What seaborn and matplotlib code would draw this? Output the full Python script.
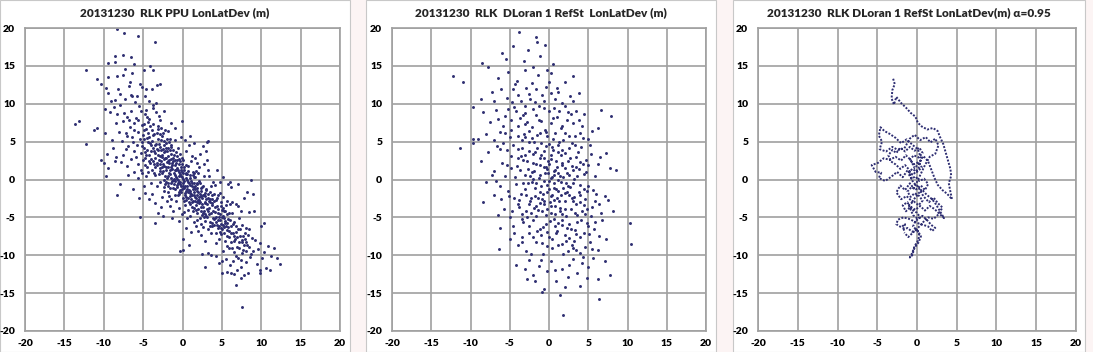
import matplotlib
matplotlib.use("Agg")
import matplotlib.pyplot as plt
import seaborn as sns
import pandas as pd
from matplotlib.patches import Rectangle

# ---------------- data (metres) ----------------
titles = ["20131230  RLK PPU LonLatDev (m)",
          "20131230  RLK  DLoran 1 RefSt  LonLatDev (m)",
          "20131230  RLK DLoran 1 RefSt LonLatDev(m) \u03b1=0.95"]
ticks = [-20, -15, -10, -5, 0, 5, 10, 15, 20]

ppu_pts = [
 (-8.3,19.9),(-7.4,19.3),(-5.7,18.9),(-3.5,18.2),(-8.6,16.3),(-7.6,16.5),(-6.6,16.2),(-9.5,15.4),(-8.6,15.5),(-6.2,15.2),
 (-4.1,15.0),(-12.2,14.4),(-7.3,14.6),(-4.9,14.4),(-3.7,14.4),(-10.8,13.3),(-9.5,13.5),(-8.3,13.6),(-6.7,12.9),(-10.4,12.6),
 (-2.8,12.6),(-5.2,12.2),(-3.9,11.9),(-9.5,11.4),(-8.0,11.3),(-6.4,11.0),(-4.7,11.0),(-8.6,10.5),(-13.6,7.3),(-13.1,7.7),
 (-11.3,6.6),(-10.9,6.8),(-12.3,4.7),(-10.3,2.6),(-10.0,2.2),(-9.7,0.4),(-8.3,-2.1),(-5.4,-4.9),(-3.5,-5.7),(7.5,-16.8),
 (6.8,-13.9),(7.4,-13.0),(9.9,-12.4),(11.1,-11.9),(12.4,-11.2),(12.0,-10.3),(11.6,-9.1),(10.3,-5.8),(8.7,0.0),(8.2,-1.7),
 (6.0,-0.3),(3.1,5.0),(-0.1,7.7),(-0.3,-9.5),(0.0,-7.8),(2.9,-11.5),(5.0,-12.4),(6.1,-12.4),
 (-9.8,6.1),(-9.6,3.4),(-9.2,8.9),(-8.9,5.2),(-8.7,9.6),(-8.5,7.4),(-8.4,3.0),(-8.2,11.9),(-8.1,6.3),(-9.9,9.3),
 (-9.4,1.5),(-8.8,4.1),(-8.3,8.6),(-9.1,10.4),(-8.6,2.4),(-9.7,12.1),(-8.0,-0.6),
 (-7.9,9.8),(-7.7,5.1),(-7.6,7.7),(-7.5,3.2),(-7.3,10.6),(-7.2,6.2),(-7.1,1.8),(-7.0,8.3),(-6.9,4.4),(-6.8,12.3),
 (-6.7,6.9),(-6.6,2.7),(-6.5,9.1),(-6.4,5.6),(-6.3,-1.2),(-6.2,7.5),(-6.1,3.8),(-6.0,10.2),(-7.8,2.3),(-7.4,8.8),
 (-6.9,0.6),(-6.6,11.1),(-6.3,4.9),(-6.1,6.6),(-7.2,4.0),(-6.8,7.8),(-7.6,13.8),(-6.4,14.1),(-6.2,1.0),(-7.0,5.8),
 (-5.9,8.1),(-5.8,4.6),(-5.7,6.3),(-5.6,2.1),(-5.5,9.7),(-5.4,5.3),(-5.3,3.5),(-5.2,7.2),(-5.1,0.9),(-5.0,5.9),
 (-4.9,4.1),(-4.8,8.6),(-4.7,2.8),(-4.6,6.7),(-4.5,1.6),(-4.4,4.9),(-4.3,10.3),(-4.2,3.3),(-4.1,7.0),(-4.0,-0.4),
 (-5.9,3.0),(-5.6,7.9),(-5.3,1.2),(-5.1,4.4),(-4.9,6.5),(-4.7,-1.8),(-4.5,3.9),(-4.3,5.6),(-4.1,2.2),(-5.8,11.0),
 (-5.4,12.6),(-5.0,2.6),(-4.6,9.2),(-4.2,8.0),(-5.7,0.2),(-5.2,5.0),(-4.8,3.6),(-4.4,6.2),(-4.0,4.5),(-5.5,-2.4),
 (-4.9,-0.9),(-4.6,12.0),(-4.2,-2.6),(-5.3,9.0),(-4.4,1.0),
 (-3.9,5.1),(-3.8,2.4),(-3.7,7.3),(-3.6,3.8),(-3.5,0.6),(-3.4,4.7),(-3.3,6.1),(-3.2,1.9),(-3.1,3.2),(-3.0,8.4),
 (-2.9,-0.3),(-2.8,4.3),(-2.7,2.5),(-2.6,5.7),(-2.5,1.1),(-2.4,3.6),(-2.3,-1.5),(-2.2,6.5),(-2.1,2.9),(-2.0,0.2),
 (-3.9,1.2),(-3.7,4.2),(-3.5,2.9),(-3.3,-0.9),(-3.1,5.4),(-2.9,3.1),(-2.7,6.8),(-2.5,4.0),(-2.3,1.8),(-2.1,4.8),
 (-3.8,9.4),(-3.4,10.1),(-3.0,0.7),(-2.6,-2.3),(-2.2,3.7),(-3.6,6.0),(-3.2,4.0),(-2.8,1.5),(-2.4,0.0),(-2.0,2.3),
 (-3.9,-1.9),(-3.5,-3.1),(-3.1,-4.4),(-2.7,-3.6),(-2.3,5.1),(-2.0,-2.8),(-3.6,2.0),(-2.8,7.9),(-2.4,9.1),(-3.3,12.5),
 (-2.5,-4.8),(-2.1,1.3),(-3.0,2.6),(-2.6,3.3),(-2.2,-0.6),
 (-1.9,3.1),(-1.8,0.5),(-1.7,2.2),(-1.6,-1.1),(-1.5,1.6),(-1.4,4.3),(-1.3,-0.2),(-1.2,2.8),(-1.1,0.9),(-1.0,-2.0),
 (-0.9,1.9),(-0.8,3.6),(-0.7,-0.7),(-0.6,1.2),(-0.5,-1.6),(-0.4,0.4),(-0.3,2.5),(-0.2,-0.9),(-0.1,1.0),(0.0,-2.4),
 (-1.9,-0.4),(-1.7,4.9),(-1.5,-2.6),(-1.3,1.4),(-1.1,3.3),(-0.9,-1.3),(-0.7,0.1),(-0.5,2.0),(-0.3,-0.3),(-0.1,-1.2),
 (-1.8,6.4),(-1.4,7.5),(-1.0,5.2),(-0.6,4.1),(-0.2,5.6),(-1.6,-3.5),(-1.2,-4.2),(-0.8,-2.9),(-0.4,-3.8),(-0.1,-4.6),
 (-1.9,1.7),(-1.5,0.2),(-1.1,-0.6),(-0.7,2.6),(-0.3,0.7),(-1.8,-1.7),(-1.4,2.7),(-1.0,1.2),(-0.6,-0.4),(-0.2,1.6),
 (-1.3,-5.1),(-0.5,-5.5),(-0.9,6.8),(-0.3,3.4),(-1.6,3.9),(-0.8,0.3),(-0.4,-1.9),(-1.2,0.0),(-0.1,2.9),(-1.7,-2.2),
 (0.1,-0.5),(0.2,1.3),(0.3,-1.8),(0.4,0.2),(0.5,-2.7),(0.6,-0.9),(0.7,1.8),(0.8,-1.4),(0.9,0.6),(1.0,-3.2),
 (1.1,-0.2),(1.2,-2.1),(1.3,1.0),(1.4,-1.0),(1.5,-3.8),(1.6,0.3),(1.7,-2.5),(1.8,-0.6),(1.9,2.2),(2.0,-1.7),
 (0.1,2.6),(0.3,-3.4),(0.5,0.9),(0.7,-0.3),(0.9,-2.2),(1.1,2.4),(1.3,-4.1),(1.5,-0.4),(1.7,1.1),(1.9,-3.0),
 (0.2,-4.3),(0.4,3.7),(0.6,-5.1),(0.8,4.5),(1.0,-4.8),(1.2,3.1),(1.4,-5.6),(1.6,2.9),(1.8,-4.4),(2.0,0.8),
 (0.2,-1.1),(0.6,0.7),(1.0,-1.5),(1.4,0.9),(1.8,-2.0),(0.3,5.2),(0.9,5.8),(1.5,4.8),(0.5,-6.4),(1.1,-6.9),
 (1.7,-6.1),(0.0,-9.3),(0.8,-8.6),(1.3,-2.8),(0.7,-4.0),(1.6,-1.3),(0.4,-2.3),(1.9,-5.3),(1.2,-0.9),
 (2.1,-2.3),(2.2,-0.4),(2.3,-3.6),(2.4,-1.5),(2.5,-4.7),(2.6,-2.0),(2.7,0.5),(2.8,-3.1),(2.9,-5.5),(3.0,-1.2),
 (3.1,-3.9),(3.2,-2.4),(3.3,1.3),(3.4,-4.5),(3.5,-3.0),(3.6,-0.8),(3.7,-5.8),(3.8,-2.6),(3.9,-4.1),(4.0,-1.9),
 (2.1,1.6),(2.3,-5.9),(2.5,-1.0),(2.7,-4.2),(2.9,-2.2),(3.1,2.6),(3.3,-6.6),(3.5,-1.7),(3.7,-3.4),(3.9,-0.3),
 (2.2,3.4),(2.6,4.4),(3.0,3.8),(3.2,5.1),(2.4,-7.3),(2.8,-8.1),(3.2,-9.7),(3.6,-7.0),(4.0,-5.2),(2.2,-3.0),
 (2.6,-6.3),(3.0,-4.8),(3.4,-2.9),(3.8,-6.2),(2.5,-9.9),(3.6,-10.0),(2.0,-6.8),(3.4,0.4),(2.7,2.0),
 (4.1,-4.3),(4.2,-2.7),(4.3,-5.6),(4.4,-3.5),(4.5,-6.4),(4.6,-4.9),(4.7,-1.8),(4.8,-5.3),(4.9,-7.2),(5.0,-4.0),
 (5.1,-6.0),(5.2,-2.3),(5.3,-5.1),(5.4,-8.1),(5.5,-3.4),(5.6,-6.7),(5.7,-4.6),(5.8,-0.6),(5.9,-7.6),(6.0,-5.4),
 (4.1,-0.7),(4.3,-8.4),(4.5,-2.1),(4.7,-6.9),(4.9,-3.0),(5.1,-9.5),(5.3,-4.2),(5.5,-10.5),(5.7,-2.9),(5.9,-9.1),
 (4.2,-10.1),(4.6,-11.0),(5.0,-10.8),(5.6,-12.2),(6.0,-11.3),(4.4,1.2),(4.8,-0.3),(5.2,0.3),(4.4,-6.0),(5.4,-5.8),
 (5.8,-6.3),(4.6,-7.8),(5.0,-5.0),(5.6,-8.8),(6.0,-3.2),
 (6.1,-6.2),(6.2,-8.3),(6.3,-4.4),(6.4,-7.1),(6.5,-9.6),(6.6,-5.6),(6.7,-7.8),(6.8,-3.2),(6.9,-8.9),(7.0,-6.6),
 (7.1,-10.4),(7.2,-5.1),(7.3,-7.4),(7.4,-11.6),(7.5,-8.2),(7.6,-6.0),(7.7,-9.3),(7.8,-2.4),(7.9,-7.0),(8.0,-10.9),
 (6.2,-1.0),(6.6,-12.5),(7.0,-0.6),(7.4,-4.1),(7.8,-12.6),(6.4,-10.8),(6.8,-6.9),(7.2,-9.0),(7.6,-8.0),(8.0,-6.4),
 (6.3,-3.0),(7.1,-3.5),(6.9,-11.9),(7.7,-7.5),(6.5,-8.1),
 (8.2,-8.7),(8.4,-6.6),(8.6,-10.2),(8.8,-7.7),(9.0,-9.5),(9.2,-8.0),(9.4,-11.1),(9.6,-9.2),(9.8,-8.4),(10.1,-10.4),
 (10.4,-9.6),(10.8,-8.8),(11.2,-10.1),(8.5,-4.3),(9.1,-4.2),(8.3,-12.4),(9.9,-12.0),(10.0,-6.2),(8.9,-1.9),(10.6,-11.7),
 # denser core
 (-4.85,5.3),(-4.65,3.2),(-4.35,7.6),(-4.15,4.8),(-3.95,2.7),(-3.75,5.9),(-3.55,3.5),(-3.35,8.9),(-3.15,6.7),(-4.75,1.9),
 (-4.55,5.5),(-4.25,2.4),(-3.85,6.6),(-3.65,0.9),(-3.45,4.5),(-3.25,2.2),(-3.05,7.1),(-4.95,7.3),(-4.45,8.2),(-3.55,1.6),
 (-4.05,3.8),(-3.15,3.9),(-4.6,0.4),(-3.7,9.8),
 (-2.95,4.7),(-2.85,2.0),(-2.75,5.2),(-2.65,0.9),(-2.55,3.0),(-2.45,6.1),(-2.35,2.7),(-2.25,0.5),(-2.15,4.2),(-2.05,1.6),
 (-1.95,3.8),(-1.85,-0.8),(-1.75,2.6),(-1.65,5.3),(-1.55,0.7),(-1.45,3.4),(-1.35,1.9),(-1.25,-1.1),(-1.15,2.4),(-1.05,0.1),
 (-2.9,1.1),(-2.7,3.9),(-2.5,2.1),(-2.3,4.5),(-2.1,-0.3),(-1.9,2.5),(-1.7,0.9),(-1.5,4.6),(-1.3,2.2),(-1.1,-0.1),
 (-2.8,6.0),(-2.4,-1.0),(-2.0,5.4),(-1.6,1.3),(-1.2,3.9),(-2.6,1.7),(-2.2,2.9),(-1.8,4.2),(-1.4,-0.4),(-1.0,2.6),
 (-0.95,0.6),(-0.85,2.2),(-0.75,-1.0),(-0.65,1.5),(-0.55,0.0),(-0.45,2.7),(-0.35,-0.6),(-0.25,1.2),(-0.15,-1.7),(-0.05,0.3),
 (0.05,-0.9),(0.15,1.6),(0.25,-0.2),(0.35,-2.1),(0.45,0.7),(0.55,-1.2),(0.65,1.1),(0.75,-2.5),(0.85,-0.4),(0.95,-1.8),
 (-0.9,-0.2),(-0.7,3.1),(-0.5,1.0),(-0.3,-1.4),(-0.1,2.1),(0.1,0.1),(0.3,-0.9),(0.5,1.9),(0.7,-1.6),(0.9,0.2),
 (-0.8,1.3),(-0.4,-0.3),(0.0,0.8),(0.4,-1.5),(0.8,-3.0),(-0.6,-2.1),(-0.2,0.4),(0.2,-2.8),(0.6,-0.1),(1.0,-0.7),
 (1.05,-1.9),(1.15,-0.5),(1.25,-3.0),(1.35,-1.2),(1.45,0.3),(1.55,-2.3),(1.65,-0.9),(1.75,-3.4),(1.85,-1.5),(1.95,-2.7),
 (2.05,-0.2),(2.15,-3.1),(2.25,-1.9),(2.35,-4.2),(2.45,-2.5),(2.55,-0.8),(2.65,-3.6),(2.75,-2.1),(2.85,-4.6),(2.95,-1.4),
 (1.1,-2.6),(1.3,0.6),(1.5,-1.7),(1.7,-4.0),(1.9,-0.4),(2.1,-2.7),(2.3,-1.1),(2.5,-3.3),(2.7,-5.0),(2.9,-3.0),
 (1.2,-3.6),(1.6,-2.9),(2.0,-3.9),(2.4,-2.2),(2.8,-1.8),(1.4,-2.0),(1.8,-1.1),(2.2,-5.1),(2.6,-4.4),(3.0,-2.6),
 (3.05,-3.3),(3.15,-5.0),(3.25,-1.9),(3.35,-3.8),(3.45,-5.6),(3.55,-2.6),(3.65,-4.4),(3.75,-3.1),(3.85,-5.1),(3.95,-2.8),
 (4.05,-6.0),(4.15,-3.6),(4.25,-4.9),(4.35,-2.5),(4.45,-5.4),(4.55,-3.9),(4.65,-6.2),(4.75,-4.5),(4.85,-5.9),(4.95,-3.5),
 (5.05,-6.6),(5.15,-4.8),(5.25,-7.0),(5.35,-5.5),(5.45,-4.1),(5.55,-6.1),(5.65,-7.4),(5.75,-5.2),(5.85,-6.8),(5.95,-4.4),
 (3.3,-4.1),(3.7,-2.1),(4.1,-5.1),(4.5,-4.4),(4.9,-6.4),(5.3,-6.3),(5.7,-5.7),(3.5,-6.2),(4.3,-7.0),(5.1,-3.7),
 (6.15,-7.0),(6.35,-5.9),(6.55,-7.4),(6.75,-6.1),(6.95,-7.6),(7.15,-8.3),(7.35,-6.5),(7.55,-9.7),(7.75,-8.6),(7.95,-7.9),
 (8.1,-9.4),(8.3,-7.3),(8.5,-8.9),(8.7,-9.9),(6.25,-9.0),(6.85,-10.1),(7.45,-10.6),(8.05,-8.2),
]

dloran_pts = [
 (-3.8,19.5),(-1.6,18.8),(-1.5,18.1),(-0.5,17.8),(-4.6,17.6),(-6.0,16.7),(-2.7,17.1),(-1.1,16.3),(-5.5,15.9),(-3.2,15.6),
 (0.5,15.2),(-0.2,14.5),(-12.2,13.6),(-10.9,12.9),(-11.3,4.1),
 (-7.8,14.9),(-8.5,15.4),(-6.5,13.4),(-5.2,14.2),(-4.1,13.0),(-3.0,14.4),(-2.2,12.7),(-1.4,13.8),(-0.4,12.2),(0.3,14.1),
 (1.2,11.6),(2.1,12.9),(3.1,13.6),(-7.2,11.6),(-6.1,12.0),(-5.3,10.8),(-4.6,11.9),(-3.6,10.4),(-2.6,11.3),(-1.8,10.2),
 (-0.9,11.1),(0.8,10.6),(1.6,10.1),(2.7,11.0),(3.8,11.4),(-8.6,10.6),(-7.0,10.3),(-2.0,14.9),(-4.3,12.6),(0.0,12.9),(3.0,10.3),
 (-9.7,9.6),(-8.4,8.9),(-7.5,7.6),(-6.8,9.2),(-6.2,6.3),(-5.6,8.4),(-5.0,5.6),(-4.5,9.6),(-4.0,7.1),(-3.5,5.2),
 (-3.0,8.8),(-2.5,6.4),(-2.0,9.3),(-1.5,5.9),(-1.0,7.7),(-0.5,6.6),(0.0,9.0),(0.5,5.4),(1.0,8.2),(1.5,6.8),
 (2.0,9.7),(2.5,5.8),(3.0,7.4),(3.5,9.0),(4.0,6.1),(4.5,8.6),(5.0,5.3),(6.2,6.8),(-8.0,6.0),(-7.0,5.2),
 (-5.8,7.0),(-4.8,6.5),(-4.2,9.0),(-3.7,8.1),(-3.2,6.0),(-2.8,7.6),(-2.2,5.5),(-1.7,8.5),(-1.2,6.2),(-0.7,9.5),
 (-0.2,5.8),(0.3,7.5),(0.8,6.1),(1.3,9.1),(1.8,5.2),(2.3,7.9),(2.8,8.6),(3.3,5.7),(3.8,7.9),(4.3,5.5),
 (-6.5,8.0),(-9.0,5.3),(5.5,6.4),(-5.2,9.3),(1.6,7.1),(6.6,9.2),(7.9,8.4),(-9.7,5.3),
 (-8.7,2.4),(-9.7,4.8),(-7.8,3.6),(-7.0,1.1),(-6.6,4.4),(-6.0,2.2),(-5.6,0.5),(-5.3,3.9),(-4.9,1.5),(-4.6,4.6),
 (-4.3,0.3),(-4.0,2.9),(-3.7,1.2),(-3.4,4.2),(-3.1,0.6),(-2.8,2.5),(-2.5,3.8),(-2.2,1.0),(-1.9,4.9),(-1.6,2.0),
 (-1.3,0.2),(-1.0,3.2),(-0.7,1.6),(-0.4,4.4),(-0.1,0.8),(0.2,2.7),(0.5,3.9),(0.8,1.3),(1.1,4.6),(1.4,0.4),
 (1.7,2.2),(2.0,3.5),(2.3,0.9),(2.6,4.1),(2.9,1.8),(3.2,0.1),(3.5,3.0),(3.8,1.4),(4.1,4.3),(4.4,0.7),
 (4.7,2.6),(5.0,1.9),(5.4,3.4),(5.8,0.5),(6.5,3.0),(7.8,1.5),(8.5,1.2),(7.3,3.5),(-5.9,4.8),(-4.8,3.1),
 (-3.9,4.0),(-3.0,3.3),(-2.4,0.4),(-1.8,3.6),(-1.1,1.9),(-0.6,2.9),(0.0,4.7),(0.4,0.3),(0.9,2.4),(1.5,3.2),
 (2.1,1.5),(2.7,2.9),(3.3,4.5),(3.9,2.3),(-2.0,2.2),(-0.3,1.4),(1.2,0.9),(-6.8,-0.2),(-8.0,-0.3),(6.2,2.0),
 (-8.4,-3.0),(-7.0,-2.1),(-6.3,-0.8),(-5.7,-3.9),(-5.2,-1.5),(-4.7,-4.2),(-4.2,-0.6),(-3.8,-2.7),(-3.4,-4.6),(-3.0,-1.2),
 (-2.6,-3.3),(-2.2,-0.3),(-1.8,-2.2),(-1.4,-4.0),(-1.0,-0.9),(-0.6,-2.9),(-0.2,-1.6),(0.2,-4.4),(0.6,-0.5),(1.0,-2.4),
 (1.4,-3.7),(1.8,-1.1),(2.2,-4.8),(2.6,-2.0),(3.0,-0.4),(3.4,-3.2),(3.8,-1.7),(4.2,-4.1),(4.6,-2.6),(5.0,-0.8),
 (5.5,-3.6),(6.0,-1.9),(6.6,-4.4),(7.1,-2.2),(7.5,-2.7),(8.1,-4.2),(-5.0,-4.9),(-3.6,-1.9),(-2.9,-4.1),(-2.3,-2.5),
 (-1.6,-0.5),(-1.2,-3.1),(-0.8,-1.9),(-0.4,-4.7),(0.0,-0.2),(0.4,-2.0),(0.8,-3.5),(1.2,-1.5),(1.6,-4.5),(2.0,-2.9),
 (2.4,-0.9),(2.8,-3.9),(3.2,-2.3),(3.6,-4.7),(4.0,-0.7),(4.4,-3.4),(4.8,-1.5),(5.3,-4.8),(5.8,-2.8),(-4.4,-2.5),
 (-6.5,-4.7),(0.1,-3.0),(1.5,-0.3),(-1.9,-3.7),(2.3,-1.6),(-0.9,-4.1),(3.0,-2.8),(0.7,-1.1),(-2.7,-0.5),(4.9,-3.9),
 (-6.2,-6.4),(-5.0,-7.8),(-6.4,-9.2),(-4.6,-6.1),(-3.9,-8.6),(-3.3,-5.6),(-2.9,-9.5),(-2.5,-7.0),(-2.0,-5.4),(-1.6,-8.3),
 (-1.2,-6.5),(-0.8,-9.8),(-0.4,-5.9),(0.0,-7.6),(0.4,-9.0),(0.8,-6.1),(1.2,-8.7),(1.6,-5.3),(2.0,-7.3),(2.4,-9.4),
 (2.8,-6.6),(3.2,-8.1),(3.6,-5.6),(4.0,-9.7),(4.4,-7.0),(4.8,-5.7),(5.2,-8.3),(5.7,-6.6),(6.2,-9.3),(6.8,-5.4),
 (7.2,-7.9),(-1.0,-7.3),(0.6,-5.2),(1.8,-9.9),(2.6,-5.9),(3.4,-7.2),(4.6,-8.9),(-3.5,-7.6),(-0.2,-8.8),(1.0,-6.8),
 (2.2,-8.1),(3.0,-9.0),(5.0,-6.1),(-2.3,-9.9),(6.4,-7.4),(10.3,-5.7),(10.4,-8.5),
 (-4.2,-11.3),(-2.8,-13.2),(-2.5,-10.6),(-2.0,-12.6),(-1.3,-11.4),(-0.6,-14.5),(-0.3,-12.1),(0.3,-10.8),(0.9,-13.4),(1.4,-15.2),
 (1.7,-11.8),(2.4,-12.9),(3.1,-10.5),(3.6,-12.4),(4.2,-11.0),(4.8,-13.0),(5.6,-10.3),(6.3,-13.2),(7.1,-10.8),(7.8,-12.6),
 (-0.9,-14.8),(6.4,-15.8),(1.8,-17.9),
 # denser core
 (-3.6,3.1),(-3.3,-0.4),(-3.0,5.6),(-2.7,1.4),(-2.4,-2.9),(-2.1,3.4),(-1.8,-1.1),(-1.5,4.1),(-1.2,0.6),(-0.9,-2.6),
 (-0.6,3.8),(-0.3,-0.7),(0.0,2.0),(0.3,-3.5),(0.6,1.1),(0.9,-1.3),(1.2,3.6),(1.5,-2.1),(1.8,0.3),(2.1,-3.9),
 (2.4,2.4),(2.7,-1.0),(3.0,1.2),(3.3,-4.4),(3.6,0.5),
 (-3.5,-5.2),(-3.1,7.3),(-2.6,-6.1),(-2.2,6.9),(-1.7,-4.8),(-1.3,7.9),(-0.8,-6.3),(-0.4,6.3),(0.1,-5.5),(0.5,8.1),
 (0.9,-7.1),(1.3,5.0),(1.7,-6.0),(2.1,6.1),(2.5,-7.7),(2.9,4.8),(3.3,-6.7),(3.7,3.6),(4.1,-5.3),(4.5,-1.2),
 (-4.1,1.8),(-3.8,-3.6),(-3.3,2.6),(-2.9,-2.0),(-2.5,5.0),(-2.0,0.1),(-1.6,-3.5),(-1.1,2.9),(-0.7,-0.2),(-0.2,-3.9),
 (0.3,3.2),(0.7,-2.7),(1.1,-0.1),(1.6,1.9),(2.0,-1.8),(2.5,0.6),(2.9,-2.5),(3.4,1.7),(3.9,-3.0),(4.3,2.0),
 (-1.9,1.1),(-1.4,-2.4),(-1.0,4.8),(-0.5,0.9),(0.0,-1.3),(0.4,4.3),(0.8,-4.5),(1.3,-2.8),(1.7,3.9),(2.2,-0.5),
 (-0.1,2.4),(0.2,-2.2),(0.6,0.6),(-0.4,1.7),(1.0,1.6),(-1.1,-1.6),(0.3,0.2),(-0.6,-3.3),(1.4,-4.1),(-2.3,-4.4),
 (-4.4,-7.0),(-3.9,-3.2),(-3.4,-8.3),(-2.8,-5.0),(-2.1,-7.6),(-1.5,-6.8),(-0.9,-8.4),(-0.2,-6.9),(0.4,-7.8),(1.1,-5.7),
 (1.7,-8.5),(2.3,-6.4),(2.9,-8.6),(3.5,-9.3),(4.0,-7.6),(4.6,-4.5),(5.1,-7.2),(5.5,-9.2),(-5.1,-2.2),(-4.9,7.8),
 (-4.7,10.2),(-3.9,11.2),(-3.1,9.7),(-2.4,10.6),(-1.6,12.0),(-0.7,10.3),(0.2,11.4),(1.0,12.1),(-2.9,12.1),(-5.6,6.1),
 (-6.3,4.0),(-5.4,1.9),(-6.1,-2.6),(-7.3,0.6),(-4.0,5.7),(-3.3,8.5),(-1.3,9.7),(0.6,9.5),(2.4,8.9),(4.2,7.1),
 (5.2,4.5),(4.7,1.0),(5.6,-1.4),(6.4,-3.3),(4.0,-2.1),(5.9,-5.6),(4.3,-10.2),(2.6,-11.3),(0.8,-11.9),(-1.0,-10.6),
 (-3.1,-11.8),(5.0,-11.6),(2.0,-14.2),(-1.8,-13.4),(3.9,-14.1),
]

# smoothed (alpha=0.95) track, in time order
track = [
 (-3.0,13.3),(-2.8,12.6),(-3.1,11.8),(-3.2,10.7),(-2.9,9.9),(-2.6,10.9),(-2.0,10.1),(-1.4,9.5),(-0.8,8.8),(-0.2,8.3),
 (0.1,7.5),(0.6,7.0),(1.3,6.6),(2.0,6.8),(2.6,6.4),(2.9,5.6),(3.3,4.7),(3.6,3.6),(3.9,2.5),(4.2,1.4),
 (4.3,0.5),(4.0,-0.5),(4.2,-1.6),(4.4,-2.6),(3.8,-1.9),(3.2,-1.4),(2.6,-0.7),(2.2,0.2),(1.8,1.3),(1.4,2.4),
 (0.8,3.1),(0.3,2.2),(-0.3,1.5),(-0.8,2.6),(-1.4,3.2),(-2.0,2.5),(-2.7,3.0),(-3.4,2.6),(-4.2,2.8),(-4.9,2.2),
 (-5.7,1.9),(-5.2,1.0),(-4.5,0.9),(-4.8,0.2),(-4.0,-0.2),(-3.2,0.4),(-2.5,1.0),(-1.8,0.3),(-1.2,1.2),(-0.5,0.6),
 (0.2,1.5),(0.5,2.8),(0.1,4.0),(-0.6,4.6),(-1.3,5.3),(-2.0,4.8),(-2.7,5.5),(-3.4,6.0),(-4.1,6.4),(-4.6,6.9),
 (-4.8,5.8),(-4.4,5.0),(-4.7,4.0),(-3.9,3.7),(-3.1,4.3),(-2.4,3.9),(-1.6,4.1),(-0.9,5.4),(-0.3,5.9),(0.4,5.2),
 (1.1,5.6),(1.7,4.9),(2.3,5.4),(2.7,4.5),(2.3,3.4),(1.6,3.0),(1.0,1.9),(0.5,0.8),(0.0,-0.3),(-0.4,-1.2),
 (-0.9,-0.5),(-1.5,-1.4),(-2.1,-0.8),(-2.6,-1.7),(-2.0,-2.6),(-1.3,-2.2),(-0.6,-2.9),(0.0,-2.1),(0.6,-1.3),(1.2,-2.0),
 (1.9,-2.6),(2.4,-3.3),(2.9,-4.2),(3.4,-5.1),(2.8,-4.5),(2.2,-3.9),(1.6,-3.5),(1.0,-4.1),(0.4,-3.5),(-0.2,-4.0),
 (-0.8,-3.6),(-1.4,-4.2),(-1.8,-3.4),(-1.2,-3.0),(-0.5,-4.7),(0.1,-5.2),(0.7,-4.8),(1.3,-5.4),(1.8,-6.0),(2.3,-6.4),
 (1.9,-6.8),(1.4,-6.2),(0.8,-6.0),(0.2,-5.8),(-0.4,-5.5),(-1.0,-5.2),(-1.7,-5.0),(-2.4,-5.3),(-2.6,-5.9),(-2.0,-6.3),
 (-1.5,-5.9),(-1.8,-6.7),(-1.2,-6.4),(-0.6,-6.9),(0.0,-6.6),(0.3,-7.4),(0.1,-8.1),(-0.3,-8.8),(-0.5,-9.4),(-0.7,-9.9),
 (-0.9,-10.3),(-0.6,-10.0),
 (-0.3,-9.0),(0.2,-8.3),(0.5,-7.5),(0.1,-6.8),(-0.5,-6.2),(-0.2,-5.5),(0.4,-5.0),(0.0,-4.4),(-0.6,-4.0),(-1.0,-3.3),
 (-0.4,-2.9),(0.2,-3.4),(0.7,-2.8),(0.3,-2.2),(-0.3,-1.8),(-0.8,-2.3),(-1.2,-1.6),(-0.7,-1.0),(-0.1,-1.3),(0.5,-0.8),
 (1.0,-1.4),(1.4,-0.6),(0.9,0.1),(0.3,-0.2),(-0.2,0.4),(-0.7,0.1),(-1.1,0.8),(-0.6,1.4),(0.0,1.0),(0.6,1.6),
 (0.2,2.3),(-0.4,2.0),(-0.9,2.6),(-0.4,3.2),(0.2,2.9),(0.7,3.5),(0.3,4.2),(-0.3,3.8),(-0.9,4.3),(-1.5,3.7),
 (-2.1,4.2),(-2.6,3.5),(-3.1,3.9),(-3.6,3.2),(-3.3,2.4),(-2.7,2.0),(-2.1,1.4),(-1.5,1.9),(-1.0,1.3),(-0.5,-0.4),
 (0.1,-0.9),(0.8,-2.2),(1.5,-3.0),(2.1,-2.4),(2.6,-3.1),(3.2,-3.7),(2.7,-4.6),(2.1,-5.2),(1.4,-5.0),(0.8,-5.6),
 (0.2,-6.3),(-0.5,-7.0),(-1.1,-7.6),(-1.6,-7.0),
]

# ---------------- drawing ----------------
sns.set_style("white")
plt.rcParams["font.family"] = ["Lato", "DejaVu Sans"]
plt.rcParams["font.weight"] = "bold"

W, H = 1093, 352
fig = plt.figure(figsize=(W / 100, H / 100), dpi=100)
fig.patch.set_facecolor("#fcf4f4")

grey = "#a0a0a0"
dot = "#2e2e72"

panels = [(0, 350), (366, 716), (733, 1085)]
axes_px = [(25, 340), (392, 706), (758, 1076)]
top_px, bot_px = 28, 331

for (p0, p1) in panels:
    fig.patches.append(Rectangle((p0 / W, 0), (p1 - p0) / W, 1, transform=fig.transFigure,
                                 facecolor="white", edgecolor="#c8c8c8", linewidth=0.8, zorder=-10))

df1 = pd.DataFrame(ppu_pts, columns=["lon", "lat"])
df2 = pd.DataFrame(dloran_pts, columns=["lon", "lat"])
df3 = pd.DataFrame(track, columns=["lon", "lat"])

axes = []
for i, (a0, a1) in enumerate(axes_px):
    ax = fig.add_axes([a0 / W, (H - bot_px) / H, (a1 - a0) / W, (bot_px - top_px) / H])
    ax.set_zorder(5)
    ax.set_facecolor("white")
    axes.append(ax)

for ax, df in ((axes[0], df1), (axes[1], df2)):
    sns.scatterplot(data=df, x="lon", y="lat", ax=ax, marker="o", s=4.5,
                    color=dot, linewidth=0, legend=False)

sns.lineplot(data=df3, x="lon", y="lat", ax=axes[2], sort=False, estimator=None,
             color=dot, linewidth=1.4, linestyle=(0, (1, 0.8)), legend=False)

for i, ax in enumerate(axes):
    ax.set_xlabel("")
    ax.set_ylabel("")
    ax.set_xlim(-20, 20)
    ax.set_ylim(-20, 20)
    ax.set_xticks(ticks)
    ax.set_yticks(ticks)
    ax.set_xticklabels([str(t) for t in ticks], fontweight="heavy")
    ax.set_yticklabels([str(t) for t in ticks], fontweight="heavy")
    ax.grid(True, color=grey, linewidth=1.2)
    ax.set_axisbelow(True)
    for s in ax.spines.values():
        s.set_color(grey)
        s.set_linewidth(1.2)
    ax.tick_params(axis="both", length=0, labelsize=7.5, colors="black")
    ax.tick_params(axis="x", pad=6)
    ax.tick_params(axis="y", pad=7)
    t = fig.text((panels[i][0] + panels[i][1]) / 2 / W, 1 - 13 / H, titles[i],
                 ha="center", va="center", fontsize=8.5, fontweight="heavy")
    t.set_zorder(6)

fig.savefig("out.png", dpi=100, facecolor=fig.get_facecolor())
